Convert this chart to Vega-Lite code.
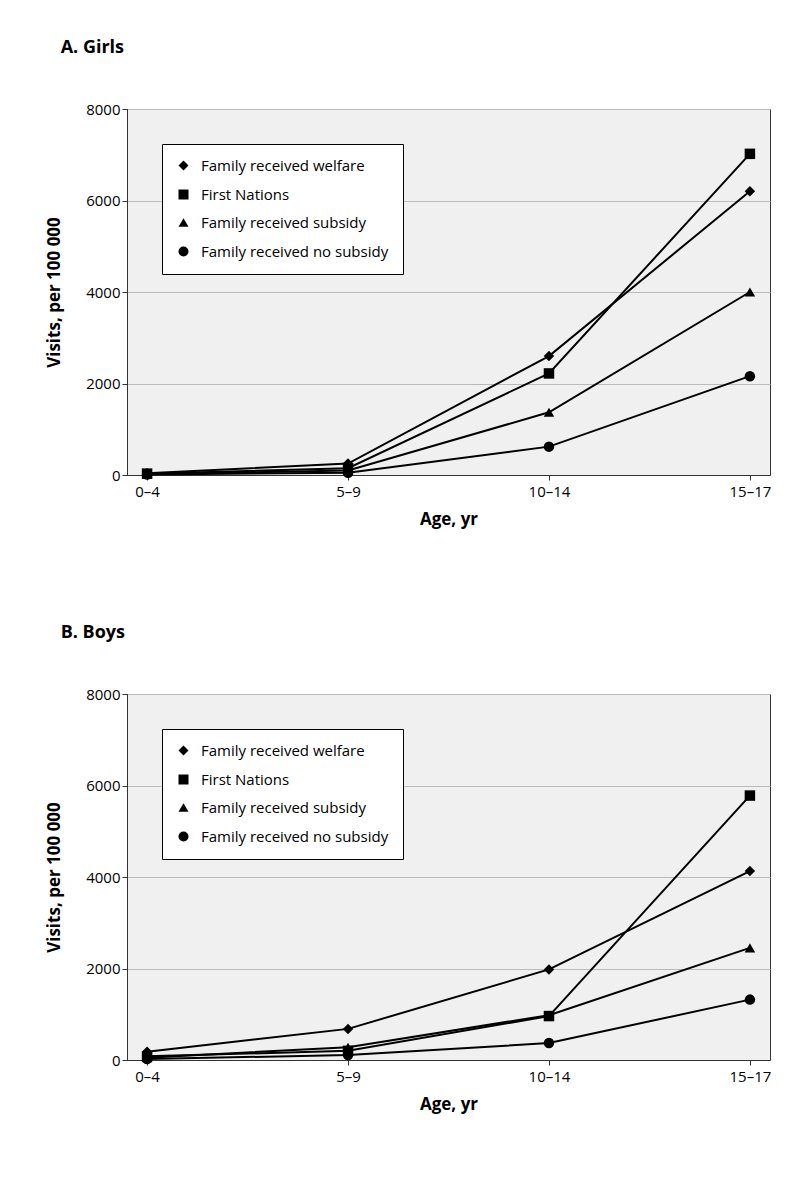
{
  "$schema": "https://vega.github.io/schema/vega-lite/v6.json",
  "padding": {"left": 45, "top": 38, "right": 15, "bottom": 10},
  "background": "white",
  "datasets": {
    "girls": [
      {"age": "0–4", "group": "Family received welfare", "v": 40},
      {"age": "5–9", "group": "Family received welfare", "v": 250},
      {"age": "10–14", "group": "Family received welfare", "v": 2600},
      {"age": "15–17", "group": "Family received welfare", "v": 6200},
      {"age": "0–4", "group": "First Nations", "v": 30},
      {"age": "5–9", "group": "First Nations", "v": 150},
      {"age": "10–14", "group": "First Nations", "v": 2220},
      {"age": "15–17", "group": "First Nations", "v": 7020},
      {"age": "0–4", "group": "Family received subsidy", "v": 20},
      {"age": "5–9", "group": "Family received subsidy", "v": 100},
      {"age": "10–14", "group": "Family received subsidy", "v": 1370},
      {"age": "15–17", "group": "Family received subsidy", "v": 4000},
      {"age": "0–4", "group": "Family received no subsidy", "v": 10},
      {"age": "5–9", "group": "Family received no subsidy", "v": 50},
      {"age": "10–14", "group": "Family received no subsidy", "v": 620},
      {"age": "15–17", "group": "Family received no subsidy", "v": 2160}
    ],
    "boys": [
      {"age": "0–4", "group": "Family received welfare", "v": 180},
      {"age": "5–9", "group": "Family received welfare", "v": 680},
      {"age": "10–14", "group": "Family received welfare", "v": 1980},
      {"age": "15–17", "group": "Family received welfare", "v": 4130},
      {"age": "0–4", "group": "First Nations", "v": 80},
      {"age": "5–9", "group": "First Nations", "v": 200},
      {"age": "10–14", "group": "First Nations", "v": 960},
      {"age": "15–17", "group": "First Nations", "v": 5780},
      {"age": "0–4", "group": "Family received subsidy", "v": 50},
      {"age": "5–9", "group": "Family received subsidy", "v": 280},
      {"age": "10–14", "group": "Family received subsidy", "v": 980},
      {"age": "15–17", "group": "Family received subsidy", "v": 2450},
      {"age": "0–4", "group": "Family received no subsidy", "v": 20},
      {"age": "5–9", "group": "Family received no subsidy", "v": 110},
      {"age": "10–14", "group": "Family received no subsidy", "v": 370},
      {"age": "15–17", "group": "Family received no subsidy", "v": 1320}
    ]
  },
  "config": {
    "font": "Open Sans",
    "view": {"fill": "#f0f0f0", "stroke": "#333333"},
    "title": {"anchor": "start", "frame": "bounds", "dx": 15, "fontSize": 18, "fontWeight": "bold", "offset": 45},
    "axis": {
      "labelFontSize": 15, "titleFontSize": 17, "titleFontWeight": "bold",
      "labelColor": "black", "titleColor": "black", "domainColor": "#333", "tickColor": "#333",
      "labelFont": "Open Sans", "titleFont": "Open Sans"
    },
    "legend": {
      "orient": "top-left", "offset": 35, "padding": 14, "strokeColor": "black",
      "fillColor": "white", "labelFontSize": 15, "rowPadding": 12, "symbolSize": 100,
      "labelColor": "black", "title": null, "labelFont": "Open Sans", "labelLimit": 0, "labelOffset": 10
    }
  },
  "vconcat": [
    {
      "title": "A. Girls",
      "width": 643, "height": 366,
      "data": {"name": "girls"},
      "encoding": {
        "x": {"field": "age", "type": "ordinal", "sort": null, "scale": {"type": "point", "padding": 0.1},
          "axis": {"labelAngle": 0, "grid": false, "title": "Age, yr", "titlePadding": 12, "labelPadding": 4}},
        "y": {"field": "v", "type": "quantitative", "scale": {"domain": [0, 8000]},
          "axis": {"values": [0, 2000, 4000, 6000, 8000], "format": "d", "gridColor": "#bbbbbb", "title": "Visits, per 100 000", "titlePadding": 22}}
      },
      "layer": [
        {"mark": {"type": "line", "color": "black", "strokeWidth": 2}, "encoding": {"detail": {"field": "group"}}},
        {"mark": {"type": "point", "filled": true, "color": "black", "opacity": 1},
          "encoding": {"shape": {"field": "group", "type": "nominal", "sort": null,
            "scale": {"domain": ["Family received welfare", "First Nations", "Family received subsidy", "Family received no subsidy"],
              "range": ["diamond", "square", "triangle-up", "circle"]}},
            "size": {"value": 110}}}
      ]
    },
    {
      "title": "B. Boys",
      "width": 643, "height": 366,
      "data": {"name": "boys"},
      "encoding": {
        "x": {"field": "age", "type": "ordinal", "sort": null, "scale": {"type": "point", "padding": 0.1},
          "axis": {"labelAngle": 0, "grid": false, "title": "Age, yr", "titlePadding": 12, "labelPadding": 4}},
        "y": {"field": "v", "type": "quantitative", "scale": {"domain": [0, 8000]},
          "axis": {"values": [0, 2000, 4000, 6000, 8000], "format": "d", "gridColor": "#bbbbbb", "title": "Visits,  per 100 000", "titlePadding": 22}}
      },
      "layer": [
        {"mark": {"type": "line", "color": "black", "strokeWidth": 2}, "encoding": {"detail": {"field": "group"}}},
        {"mark": {"type": "point", "filled": true, "color": "black", "opacity": 1},
          "encoding": {"shape": {"field": "group", "type": "nominal", "sort": null,
            "scale": {"domain": ["Family received welfare", "First Nations", "Family received subsidy", "Family received no subsidy"],
              "range": ["diamond", "square", "triangle-up", "circle"]}},
            "size": {"value": 110}}}
      ]
    }
  ],
  "spacing": 95,
  "resolve": {"legend": {"shape": "independent"}}
}
